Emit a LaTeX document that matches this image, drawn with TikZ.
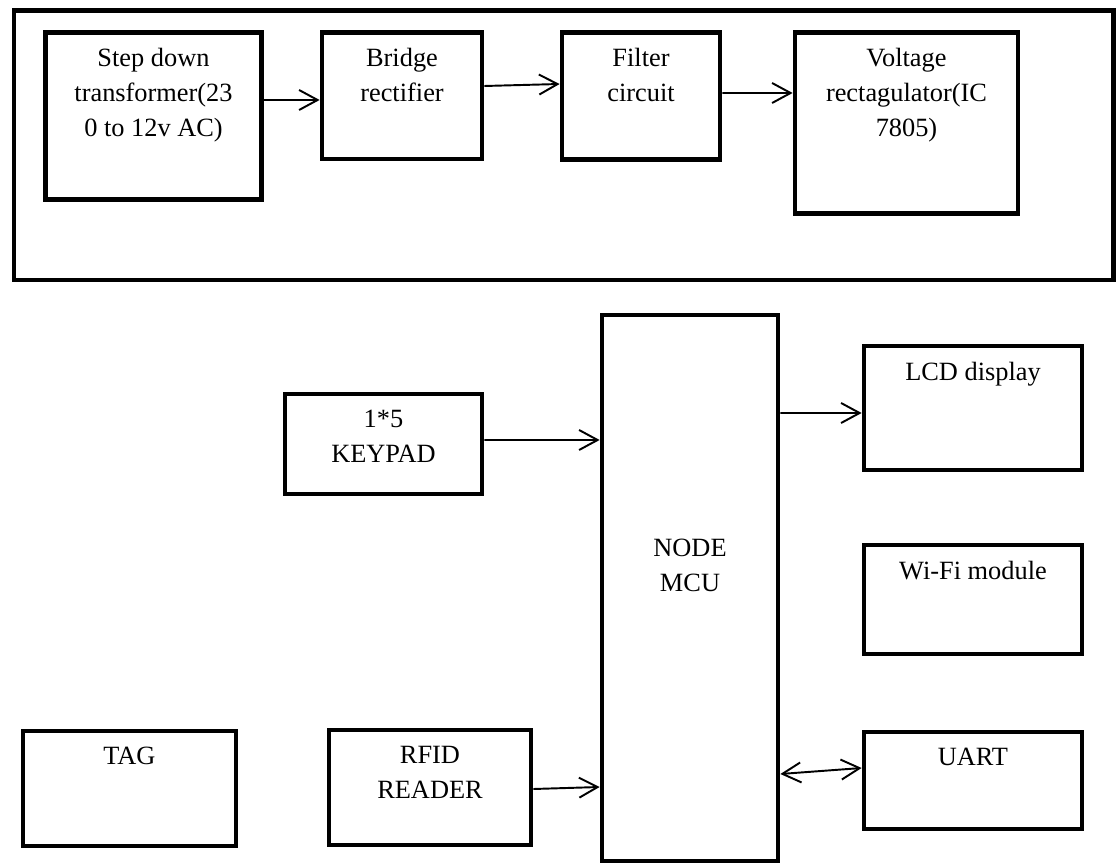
\documentclass[tikz,border=0pt]{standalone}
\usepackage{fontspec}
\setmainfont{Liberation Serif}
\usetikzlibrary{positioning,arrows.meta}

\begin{document}
\begin{tikzpicture}[
    every node/.style={font=\fontsize{15}{19.8}\selectfont,align=center},
    >={Straight Barb[length=0.37cm,width=0.4cm]},
    box/.style={draw,line width=2.7pt,inner sep=0pt},
    txt/.style={inner sep=0pt,outer sep=0pt},
    link/.style={line width=1.1pt}
  ]
    \useasboundingbox (0,0) rectangle (22.32,-17.3);
    \node[box,minimum width=21.99cm,minimum height=5.39cm] (supply) at (11.275,-2.905) {};
    \node[box,minimum width=4.32cm,minimum height=3.34cm] (trafo) at (3.07,-2.32) {};
    \node[box,minimum width=3.2cm,minimum height=2.53cm] (rect) at (8.04,-1.915) {};
    \node[box,minimum width=3.16cm,minimum height=2.54cm] (filt) at (12.82,-1.92) {};
    \node[box,minimum width=4.46cm,minimum height=3.62cm] (reg) at (18.13,-2.46) {};
    \node[txt,below=0.37cm of trafo.north] (trafo-t) {Step down\\transformer(23\\0 to 12v AC)};
    \node[txt,below=0.37cm of rect.north] (rect-t) {Bridge\\rectifier};
    \node[txt,below=0.37cm of filt.north] (filt-t) {Filter\\circuit};
    \node[txt,below=0.37cm of reg.north] (reg-t) {Voltage\\rectagulator(IC\\7805)};
    \draw[->,link] ([yshift=0.32cm]trafo.east) -- ([yshift=-0.085cm]rect.west);
    \draw[->,link] ([yshift=0.195cm]rect.east) -- ([yshift=0.24cm]filt.west);
    \draw[->,link] ([yshift=0.06cm]filt.east) -- ([yshift=0.6cm]reg.west);

    \node[box,minimum width=3.52cm,minimum height=10.92cm] (mcu) at (13.8,-11.76) {};
    \node[box,minimum width=3.94cm,minimum height=2.0cm] (keypad) at (7.67,-8.88) {};
    \node[box,minimum width=4.04cm,minimum height=2.3cm] (rfid) at (8.6,-15.75) {};
    \node[box,minimum width=4.26cm,minimum height=2.3cm] (tag) at (2.59,-15.77) {};
    \node[box,minimum width=4.36cm,minimum height=2.48cm] (lcd) at (19.46,-8.16) {};
    \node[box,minimum width=4.36cm,minimum height=2.18cm] (wifi) at (19.46,-11.99) {};
    \node[box,minimum width=4.36cm,minimum height=1.94cm] (uart) at (19.46,-15.61) {};
    \node[txt,below=4.53cm of mcu.north] (mcu-t) {NODE\\MCU};
    \node[txt,below=0.37cm of keypad.north] (keypad-t) {1*5\\KEYPAD};
    \node[txt,below=0.37cm of rfid.north] (rfid-t) {RFID\\READER};
    \node[txt,below=0.37cm of tag.north] (tag-t) {TAG};
    \node[txt,below=0.37cm of lcd.north] (lcd-t) {LCD display};
    \node[txt,below=0.37cm of wifi.north] (wifi-t) {Wi-Fi module};
    \node[txt,below=0.37cm of uart.north] (uart-t) {UART};
    \draw[->,link] ([yshift=0.08cm]keypad.east) -- ([yshift=2.96cm]mcu.west);
    \draw[->,link] ([yshift=-0.03cm]rfid.east) -- ([yshift=-3.98cm]mcu.west);
    \draw[->,link] ([yshift=3.5cm]mcu.east) -- ([yshift=-0.1cm]lcd.west);
    \draw[<->,link] ([yshift=-3.72cm]mcu.east) -- ([yshift=0.25cm]uart.west);
  \end{tikzpicture}
\end{document}
